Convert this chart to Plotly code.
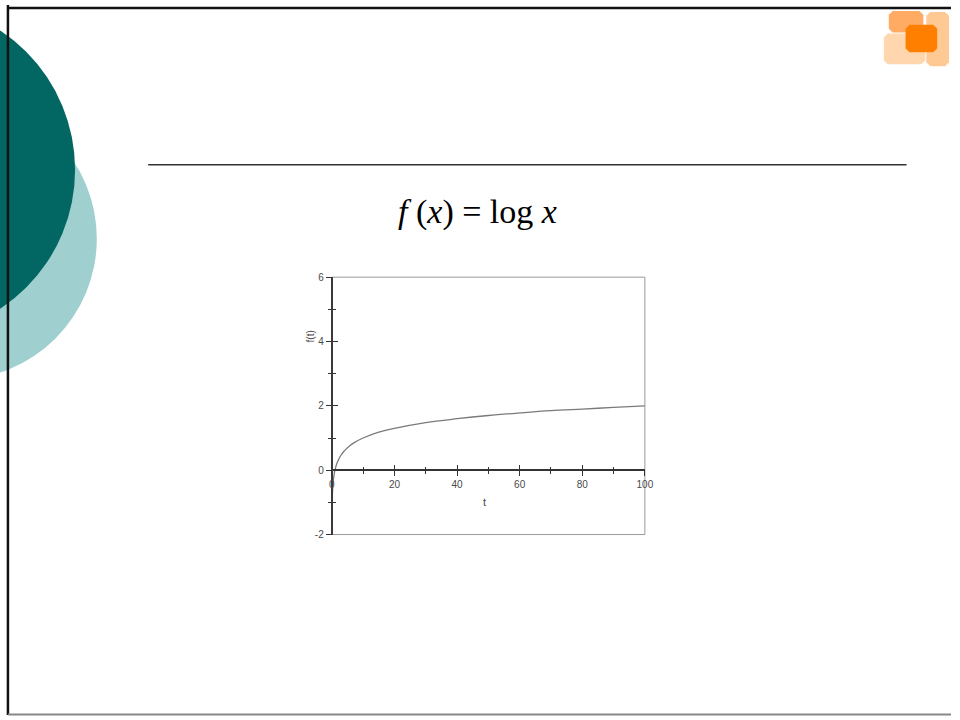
import plotly.graph_objects as go

# values (f(t) = log t)
t_vals = [0.1, 0.2, 0.3, 0.5, 0.7, 1, 1.5, 2, 3, 4, 5, 7, 10, 15, 20, 30, 40, 50, 60, 70, 80, 90, 100]
f_vals = [-1.0, -0.7, -0.52, -0.3, -0.15, 0.0, 0.18, 0.3, 0.48, 0.6, 0.7, 0.85, 1.0, 1.18, 1.3, 1.48, 1.6, 1.7, 1.78, 1.85, 1.9, 1.95, 2.0]
x_ticks = [0, 20, 40, 60, 80, 100]
x_labels = ["0", "20", "40", "60", "80", "100"]
y_ticks = [-2, 0, 2, 4, 6]
y_labels = ["-2", "0", "2", "4", "6"]

W, H = 960, 720
# plot box in pixels
x0, x1 = 333, 650
ytop, ybot = 276, 537
ydom = [(H - ybot) / H, (H - ytop) / H]
xdom = [x0 / W, x1 / W]
y_zero = ydom[0] + (0 - (-2)) / 8 * (ydom[1] - ydom[0])

fig = go.Figure()
fig.add_trace(go.Scatter(x=t_vals, y=f_vals, mode="lines", line=dict(color="#7a7a7a", width=1.3),
                         line_shape="spline", hoverinfo="skip", showlegend=False))
# dummy trace for the inward half of the crossing ticks
fig.add_trace(go.Scatter(x=[50], y=[2], xaxis="x2", yaxis="y2", mode="lines",
                         hoverinfo="skip", showlegend=False))

tickfont = dict(family="Arial", size=10, color="#4a4a4a")
tc = "#333333"
fig.update_layout(
    width=W, height=H, margin=dict(l=0, r=0, t=0, b=0),
    paper_bgcolor="white", plot_bgcolor="white", showlegend=False,
    xaxis=dict(domain=xdom, range=[0, 100], anchor="free", position=y_zero,
               tickvals=x_ticks, ticktext=x_labels, ticks="outside", ticklen=5, tickwidth=1.2, tickcolor=tc,
               minor=dict(dtick=10, ticks="outside", ticklen=3, tickcolor=tc),
               showline=True, linecolor=tc, linewidth=1.5, showgrid=False, zeroline=False,
               tickfont=tickfont, fixedrange=True),
    yaxis=dict(domain=ydom, range=[-2, 6], anchor="free", position=xdom[0],
               tickvals=y_ticks, ticktext=y_labels, ticks="outside", ticklen=5, tickwidth=1.2, tickcolor=tc,
               minor=dict(dtick=1, ticks="outside", ticklen=3, tickcolor=tc),
               showline=True, linecolor="#3a3a3a", linewidth=2.2, showgrid=False, zeroline=False,
               tickfont=tickfont, fixedrange=True),
    xaxis2=dict(domain=xdom, range=[0, 100], overlaying="x", anchor="free", position=y_zero,
                tickvals=x_ticks, ticks="inside", ticklen=5, tickwidth=1.2, tickcolor=tc,
                minor=dict(dtick=10, ticks="inside", ticklen=3, tickcolor=tc),
                showticklabels=False, showgrid=False, zeroline=False, showline=False, fixedrange=True),
    yaxis2=dict(domain=ydom, range=[-2, 6], overlaying="y", anchor="free", position=xdom[0],
                tickvals=y_ticks, ticks="inside", ticklen=5, tickwidth=1.2, tickcolor=tc,
                minor=dict(dtick=1, ticks="inside", ticklen=3, tickcolor=tc),
                showticklabels=False, showgrid=False, zeroline=False, showline=False, fixedrange=True),
)

shapes = []
# plot frame
shapes.append(dict(type="rect", xref="paper", yref="paper", x0=xdom[0], x1=xdom[1], y0=ydom[0], y1=ydom[1],
                   line=dict(color="#9a9a9a", width=1), layer="below"))


# decorative circles on the left (pixel coords converted to paper)
def circ(cx, cy, r, color):
    return dict(type="circle", xref="paper", yref="paper",
                x0=(cx - r) / W, x1=(cx + r) / W, y0=(H - cy - r) / H, y1=(H - cy + r) / H,
                fillcolor=color, line=dict(width=0), layer="below")


shapes.append(circ(-48, 237, 143, "#9fcfcf"))
shapes.append(circ(-96, 167, 169, "#026662"))
# slide border
shapes.append(dict(type="line", xref="paper", yref="paper", x0=5 / W, x1=5 / W, y0=0, y1=1,
                   line=dict(color="#111111", width=2.5)))
shapes.append(dict(type="line", xref="paper", yref="paper", x0=5 / W, x1=1, y0=(H - 3) / H, y1=(H - 3) / H,
                   line=dict(color="#111111", width=2.5)))
shapes.append(dict(type="line", xref="paper", yref="paper", x0=5 / W, x1=1, y0=0.5 / H, y1=0.5 / H,
                   line=dict(color="#888888", width=2)))
# horizontal rule under title area
shapes.append(dict(type="line", xref="paper", yref="paper", x0=147 / W, x1=915 / W, y0=(H - 162) / H, y1=(H - 162) / H,
                   line=dict(color="#333333", width=1.5)))


# logo blocks, rounded a bit
def blk(xa, xb, ya, yb, color, rr=4):
    pts = [(xa + rr, ya), (xb - rr, ya), (xb, ya + rr), (xb, yb - rr), (xb - rr, yb), (xa + rr, yb),
           (xa, yb - rr), (xa, ya + rr)]
    path = "M " + " L ".join(f"{x / W:.5f},{(H - y) / H:.5f}" for x, y in pts) + " Z"
    return dict(type="path", xref="paper", yref="paper", path=path, fillcolor=color, line=dict(width=0))


shapes.append(blk(897, 932, 6, 28, "#ffab63"))
shapes.append(blk(935, 958, 7, 62, "#ffc993"))
shapes.append(blk(892, 934, 29, 60, "#ffd6ad"))
shapes.append(blk(914, 946, 20, 48, "#ff8000"))
fig.update_layout(shapes=shapes)

fig.add_annotation(x=480 / W, y=(H - 210) / H, xref="paper", yref="paper", showarrow=False,
                   xanchor="center", yanchor="middle",
                   text="<i>f</i> (<i>x</i>) = log <i>x</i>",
                   font=dict(family="Liberation Serif", size=34, color="black"))
fig.add_annotation(x=311 / W, y=(H - 336) / H, xref="paper", yref="paper", showarrow=False,
                   xanchor="center", yanchor="middle",
                   text="f(t)", textangle=-90, font=dict(family="Arial", size=10, color="#4a4a4a"))
fig.add_annotation(x=488 / W, y=(H - 504) / H, xref="paper", yref="paper", showarrow=False,
                   xanchor="center", yanchor="middle",
                   text="t", font=dict(family="Arial", size=11, color="#4a4a4a"))

page_css = ("document.documentElement.style.margin='0';document.documentElement.style.overflow='hidden';"
            "document.body.style.margin='0';document.body.style.overflow='hidden';")
fig.write_html("out.html", config={"displayModeBar": False}, post_script=page_css)
